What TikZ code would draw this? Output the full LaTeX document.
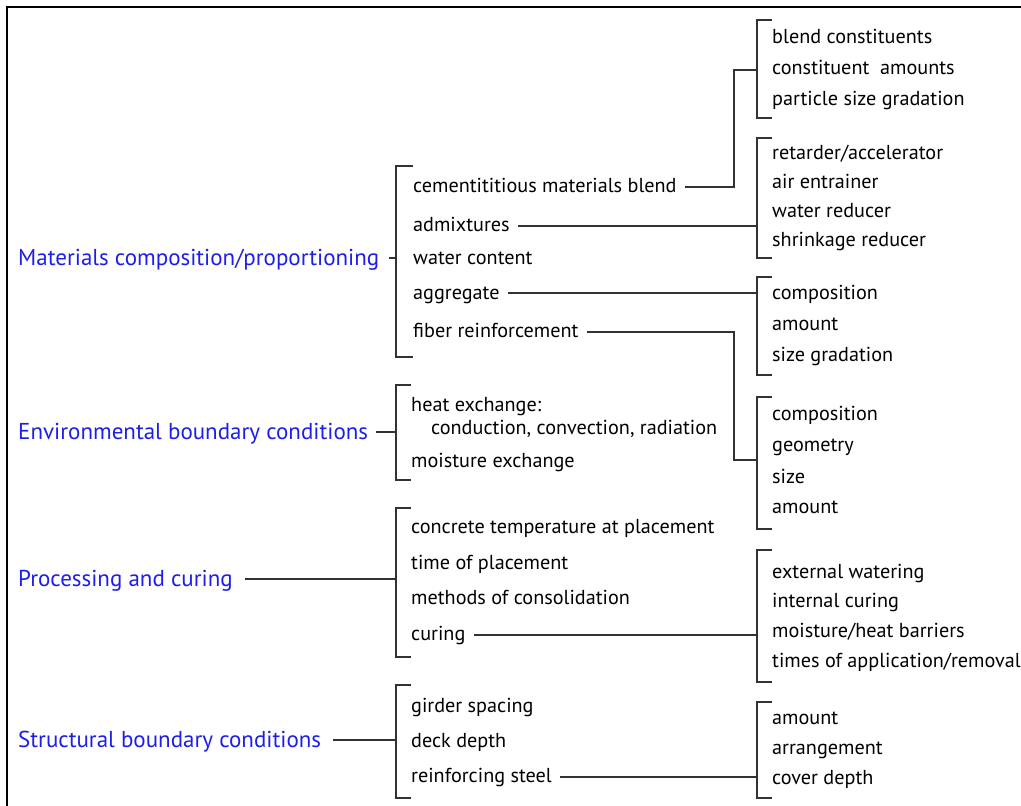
\documentclass[tikz,border=0pt]{standalone}
\usepackage{fontspec}
\setmainfont{PT Sans}
\definecolor{labelblue}{RGB}{30,30,235}
\definecolor{linegray}{RGB}{50,50,50}
\tikzset{
  group/.style={anchor=mid west,inner sep=0pt,yshift=-5pt,text=labelblue,font=\fontsize{23}{26}\selectfont},
  item/.style={anchor=mid west,inner sep=0pt,yshift=-4pt,text=black,font=\fontsize{20.2}{23}\selectfont},
  bracket/.style={draw=linegray,line width=1.2pt},
  link/.style={draw=linegray,line width=1.2pt,shorten <=8pt},
}
\begin{document}
\begin{tikzpicture}[x=1pt,y=-1pt]
  \useasboundingbox (0,0) rectangle (1021,806);
  \draw[line width=1.6pt] (7,806) -- (7,7) -- (1021,7);
  % main groups
  \node (mat) at (18,258) [group] {Materials composition/proportioning};
  \node (env) at (18,432) [group] {Environmental boundary conditions};
  \node (proc) at (18,579) [group] {Processing and curing};
  \node (struc) at (18,740) [group] {Structural boundary conditions};
  % first level items
  \node (cem) at (413,186) [item] {cementititious materials blend};
  \node (adm) at (413,225) [item] {admixtures};
  \node (wat) at (413,258) [item] {water content};
  \node (agg) at (413,293) [item] {aggregate};
  \node (fib) at (413,331) [item] {fiber reinforcement};
  \node (heat) at (411,405) [item] {heat exchange:};
  \node (cond) at (431,428) [item] {conduction, convection, radiation};
  \node (moist) at (411,461) [item] {moisture exchange};
  \node (temp) at (411,527) [item] {concrete temperature at placement};
  \node (time) at (411,563) [item] {time of placement};
  \node (cons) at (411,598) [item] {methods of consolidation};
  \node (cur) at (411,634) [item] {curing};
  \node (gird) at (411,706) [item] {girder spacing};
  \node (deck) at (411,741) [item] {deck depth};
  \node (steel) at (411,776) [item] {reinforcing steel};
  % second level items
  \node (blc) at (772,37) [item] {blend constituents};
  \node (cam) at (772,68) [item] {constituent\ \ amounts};
  \node (psg) at (772,99) [item] {particle size gradation};
  \node (ret) at (772,153) [item] {retarder/accelerator};
  \node (air) at (772,182) [item] {air entrainer};
  \node (wred) at (772,211) [item] {water reducer};
  \node (shr) at (772,240) [item] {shrinkage reducer};
  \node (acomp) at (772,293) [item] {composition};
  \node (aamt) at (772,324) [item] {amount};
  \node (asize) at (772,355) [item] {size gradation};
  \node (fcomp) at (772,414) [item] {composition};
  \node (fgeo) at (772,445) [item] {geometry};
  \node (fsize) at (772,477) [item] {size};
  \node (famt) at (772,507) [item] {amount};
  \node (ext) at (772,572) [item] {external watering};
  \node (intc) at (772,601) [item] {internal curing};
  \node (barr) at (772,631) [item] {moisture/heat barriers};
  \node (appl) at (772,661) [item] {times of application/removal};
  \node (ramt) at (772,718) [item] {amount};
  \node (arr) at (772,748) [item] {arrangement};
  \node (cov) at (772,778) [item] {cover depth};
  % bracket spines
  \coordinate (b1) at (396,258);
  \coordinate (b2) at (396,432);
  \coordinate (b3) at (396,579);
  \coordinate (b4) at (396,740);
  \coordinate (s1) at (757,70);
  \coordinate (s2) at (757,226);
  \coordinate (s3) at (757,293);
  \coordinate (s4) at (757,460);
  \coordinate (s5) at (757,635);
  \coordinate (s6) at (757,777);
  \coordinate (elbow1) at (734,187);
  \coordinate (elbow2) at (734,332);
  \draw[bracket] (413,166) -| (396,357) -- (413,357);
  \draw[bracket] (411,385) -| (396,480) -- (411,480);
  \draw[bracket] (411,508) -| (396,657) -- (411,657);
  \draw[bracket] (411,685) -| (396,798) -- (411,798);
  \draw[bracket] (772,20) -| (757,118) -- (772,118);
  \draw[bracket] (772,138) -| (757,258) -- (772,258);
  \draw[bracket] (772,277) -| (757,375) -- (772,375);
  \draw[bracket] (772,397) -| (757,529) -- (772,529);
  \draw[bracket] (772,550) -| (757,682) -- (772,682);
  \draw[bracket] (772,702) -| (757,798) -- (772,798);
  % connectors
  \draw[link,shorten <=10pt] (mat.mid east |- b1) -- (b1);
  \draw[link,shorten <=8pt] (env.mid east |- b2) -- (b2);
  \draw[link,shorten <=12pt] (proc.mid east |- b3) -- (b3);
  \draw[link,shorten <=12pt] (struc.mid east |- b4) -- (b4);
  \draw[link] (cem.mid east |- elbow1) -- (elbow1) |- (s1);
  \draw[link] (adm.mid east |- s2) -- (s2);
  \draw[link] (agg.mid east |- s3) -- (s3);
  \draw[link] (fib.mid east |- elbow2) -- (elbow2) |- (s4);
  \draw[link] (cur.mid east |- s5) -- (s5);
  \draw[link] (steel.mid east |- s6) -- (s6);
\end{tikzpicture}
\end{document}
